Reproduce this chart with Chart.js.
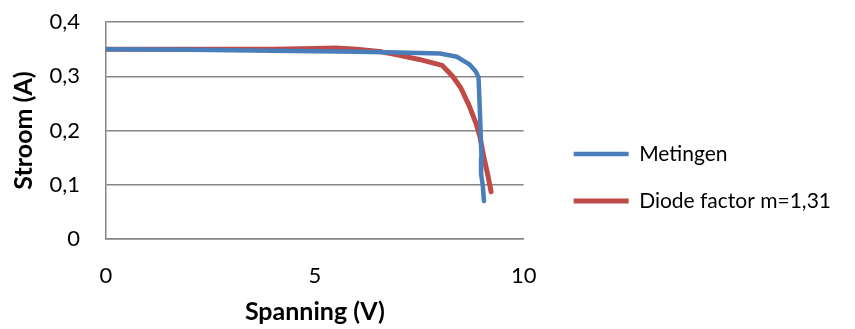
<!DOCTYPE html>
<html>
<head>
<meta charset="utf-8">
<script src="https://cdn.jsdelivr.net/npm/chart.js@4"></script>
<style>
  html, body { margin: 0; padding: 0; background: #fff; }
  #wrap { width: 855px; height: 329px; }
</style>
</head>
<body>
<div id="wrap"><canvas id="grafiek" width="855" height="329"></canvas></div>
<script>
// Metingen: spanning (V) en stroom (A)
const metingenV = [0, 2, 4, 6, 7, 8, 8.4, 8.7, 8.85, 8.92, 8.96, 8.99, 8.98, 9.02, 9.05];
const metingenI = [0.350, 0.349, 0.347, 0.345, 0.344, 0.342, 0.336, 0.322, 0.309, 0.298, 0.220, 0.150, 0.120, 0.100, 0.070];

// Model met diode factor m=1,31
const modelV = [0, 1, 2, 3, 4, 5, 5.5, 6, 6.6, 7, 7.5, 8.05, 8.3, 8.5, 8.7, 8.85, 8.95, 9.05, 9.15, 9.22];
const modelI = [0.350, 0.350, 0.350, 0.350, 0.350, 0.351, 0.352, 0.350, 0.345, 0.339, 0.331, 0.320, 0.300, 0.278, 0.245, 0.215, 0.190, 0.150, 0.115, 0.087];

const xTicks = [0, 5, 10];
const yTicks = [0, 0.1, 0.2, 0.3, 0.4];

const lettertype = "Lato";
const grijs = "#868686";

function punten(xs, ys) {
    return xs.map((x, i) => ({ x: x, y: ys[i] }));
}

function komma(v) {
    return String(Math.round(v * 10) / 10).replace(".", ",");
}

const grafiek = new Chart(document.getElementById("grafiek"), {
    type: "scatter",
    data: {
        datasets: [
            {
                label: "Metingen",
                data: punten(metingenV, metingenI),
                showLine: true,
                borderColor: "#4a7ebb",
                backgroundColor: "#4a7ebb",
                borderWidth: 4.5,
                borderCapStyle: "round",
                borderJoinStyle: "round",
                pointRadius: 0,
                tension: 0
            },
            {
                label: "Diode factor m=1,31",
                data: punten(modelV, modelI),
                showLine: true,
                borderColor: "#be4b48",
                backgroundColor: "#be4b48",
                borderWidth: 5,
                borderCapStyle: "round",
                borderJoinStyle: "round",
                pointRadius: 0,
                tension: 0
            }
        ]
    },
    options: {
        responsive: false,
        animation: false,
        layout: { padding: { left: 8, top: 22, right: 14, bottom: 2 } },
        plugins: {
            tooltip: { enabled: false },
            legend: {
                position: "right",
                maxWidth: 400,
                title: { display: true, text: "", font: { size: 1, lineHeight: 1 }, padding: { top: 5, bottom: 0 } },
                labels: {
                    usePointStyle: true,
                    pointStyle: "line",
                    pointStyleWidth: 55,
                    padding: 26,
                    color: "#000",
                    font: { family: lettertype, size: 21 }
                }
            }
        },
        scales: {
            x: {
                type: "linear",
                min: 0,
                max: 10,
                afterBuildTicks: s => { s.ticks = xTicks.map(v => ({ value: v })); },
                afterFit: s => { s.height = 88; },
                grid: { display: false, drawTicks: false },
                border: { display: true, color: grijs, width: 1.5 },
                ticks: { padding: 24, color: "#000", font: { family: lettertype, size: 22 } },
                title: {
                    display: true,
                    text: "Spanning (V)",
                    color: "#000",
                    font: { family: lettertype, size: 25, weight: "bold" },
                    padding: { top: 0, bottom: 0 }
                }
            },
            y: {
                min: 0,
                max: 0.4,
                afterBuildTicks: s => { s.ticks = yTicks.map(v => ({ value: v })); },
                afterFit: s => { s.width = 98; s.paddingTop = 0; s.paddingBottom = 0; },
                grid: { color: grijs, lineWidth: 1.5, drawTicks: false },
                border: { display: true, color: grijs, width: 1.5 },
                ticks: { padding: 26, color: "#000", font: { family: lettertype, size: 22 }, callback: v => komma(v) },
                title: {
                    display: true,
                    text: "Stroom (A)",
                    color: "#000",
                    font: { family: lettertype, size: 25, weight: "bold" },
                    padding: { top: 1, bottom: 0 }
                }
            },
            ruimte: {
                position: "right",
                display: true,
                grid: { display: false, drawTicks: false },
                border: { display: false },
                ticks: { display: false },
                afterFit: s => { s.width = 24; }
            }
        }
    }
});
</script>
</body>
</html>
